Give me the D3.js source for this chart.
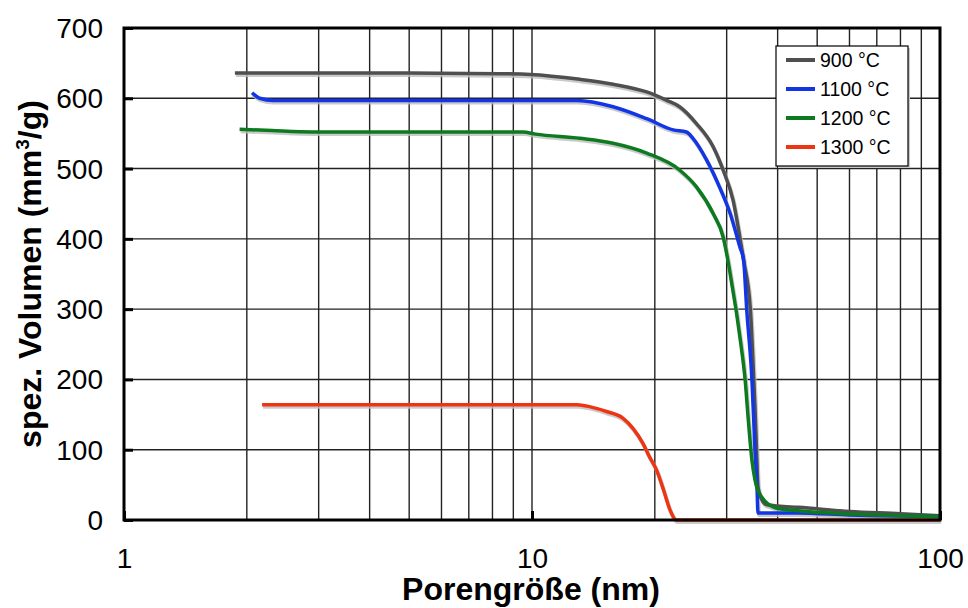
<!DOCTYPE html>
<html>
<head>
<meta charset="utf-8">
<script src="https://cdn.jsdelivr.net/npm/d3@7"></script>
<style>
  body { margin: 0; background: white; }
  text { font-family: "Liberation Sans", Arial, Helvetica, sans-serif; }
</style>
</head>
<body>
<div id="svgcontainer"></div>
<script>
// chart dimensions
const chartWidth = 968;
const chartHeight = 608;

// data: pore size (nm) and specific volume (mm3/g)
const series = ["900 °C", "1100 °C", "1200 °C", "1300 °C"];
const colors = ["#4f4f4f", "#1236e6", "#0e7a20", "#ee3512"];

const size900 = [1.87, 5, 8.35, 9.9, 13.1, 15.8, 19.1, 21.4, 23.0, 25.3, 27.8, 29.4, 31.1, 32.3, 33.0, 34.3, 34.7, 35.2, 35.5, 35.8, 36.5, 37.5, 40, 45, 60, 80, 100];
const vol900 = [636, 636, 635, 634, 627, 620, 609, 597, 588, 564, 531, 498, 455, 403, 370, 299, 242, 160, 100, 47, 30, 22, 20, 18, 12, 9, 6];

const size1100 = [2.06, 2.15, 2.32, 5, 10, 12.9, 15.8, 19.1, 22.2, 23.9, 24.8, 26.8, 28.8, 30.6, 32.3, 33.0, 33.6, 34.6, 35.2, 35.6, 35.8, 45, 60, 100];
const vol1100 = [608, 600, 597, 597, 597, 597, 588, 571, 555, 552, 543, 512, 474, 436, 389, 370, 299, 199, 100, 47, 10, 10, 7, 5];

const size1200 = [1.92, 2.3, 2.9, 5, 9.5, 10.2, 13.1, 15.8, 19.1, 23.0, 25.3, 27.8, 29.4, 30.2, 31.0, 31.8, 32.4, 33.3, 33.9, 34.6, 35.2, 36.5, 39.7, 45, 60, 100];
const vol1200 = [556, 554, 552, 552, 552, 549, 543, 536, 522, 498, 474, 436, 403, 370, 330, 290, 256, 199, 142, 85, 57, 33, 17, 13, 8.5, 5];

const size1300 = [2.18, 5, 10, 12.9, 13.9, 15.3, 16.7, 17.7, 18.7, 19.4, 20.2, 21.0, 21.8, 22.6, 40, 100];
const vol1300 = [164, 164, 164, 164, 161, 154, 145, 130, 109, 90, 71, 43, 14, 0, 0, 0];

const xTicks = [1, 10, 100];
const xGrid = [2, 3, 4, 5, 6, 7, 8, 9, 10, 20, 30, 40, 50, 60, 70, 80, 90];
const yTicks = [0, 100, 200, 300, 400, 500, 600, 700];

const sizes = [size900, size1100, size1200, size1300];
const vols = [vol900, vol1100, vol1200, vol1300];

const plotLeft = 124;
const plotRight = 940;
const plotTop = 28;
const plotBottom = 520;

const x = d3.scaleLog().domain([1, 100]).range([plotLeft, plotRight]);
const y = d3.scaleLinear().domain([0, 700]).range([plotBottom, plotTop]);

const svg = d3.select("#svgcontainer")
    .append("svg").attr("width", chartWidth).attr("height", chartHeight);

svg.append('rect')
    .attr('x', 0)
    .attr('y', 0)
    .attr('width', chartWidth)
    .attr('height', chartHeight)
    .attr('fill', 'white');

// grid lines
svg.selectAll(".vgrid")
    .data(xGrid)
    .enter().append("line")
    .attr("x1", d => x(d))
    .attr("x2", d => x(d))
    .attr("y1", plotTop)
    .attr("y2", plotBottom)
    .attr("stroke", "#222")
    .attr("stroke-width", 1.4);

svg.selectAll(".hgrid")
    .data(yTicks.slice(1, -1))
    .enter().append("line")
    .attr("x1", plotLeft)
    .attr("x2", plotRight)
    .attr("y1", d => y(d))
    .attr("y2", d => y(d))
    .attr("stroke", "#222")
    .attr("stroke-width", 1.4);

// curves, each with a soft grey shadow
const line = d3.line()
    .x(d => x(d[0]))
    .y(d => y(d[1]))
    .curve(d3.curveMonotoneX);

const drawOrder = [3, 0, 1, 2];
drawOrder.forEach(i => {
    const pts = sizes[i].map((s, j) => [s, vols[i][j]]);
    svg.append("path")
        .attr("d", line(pts))
        .attr("fill", "none")
        .attr("stroke", "#bdbdbd")
        .attr("stroke-width", 4)
        .attr("opacity", 0.8)
        .attr("transform", "translate(1,2)");
});
drawOrder.forEach(i => {
    const pts = sizes[i].map((s, j) => [s, vols[i][j]]);
    svg.append("path")
        .attr("d", line(pts))
        .attr("fill", "none")
        .attr("stroke", colors[i])
        .attr("stroke-width", 3.5);
});

// axes
const yAxis = svg.append("g")
    .attr("transform", `translate(${plotLeft},0)`)
    .call(d3.axisLeft(y).tickValues(yTicks).tickSize(-9).tickPadding(21));

const xAxis = svg.append("g")
    .attr("transform", `translate(0,${plotBottom})`)
    .call(d3.axisBottom(x).tickValues(xTicks).tickFormat(d3.format("d")).tickSize(-9).tickPadding(28));

[yAxis, xAxis].forEach(g => {
    g.select(".domain").remove();
    g.selectAll("line").attr("stroke", "black").attr("stroke-width", 3);
    g.selectAll("text")
        .attr("fill", "black")
        .style("font-size", "28px")
        .style("font-family", "'Liberation Sans', Arial, sans-serif");
});
yAxis.selectAll("text").attr("dy", "0.34em");

// plot frame
svg.append('rect')
    .attr('x', plotLeft)
    .attr('y', plotTop)
    .attr('width', plotRight - plotLeft)
    .attr('height', plotBottom - plotTop)
    .attr('fill', 'none')
    .attr('stroke', 'black')
    .attr('stroke-width', 3);

// axis titles
svg.append("text")
    .attr("x", 531)
    .attr("y", 600)
    .attr("text-anchor", "middle")
    .style("font-size", "32px")
    .style("font-weight", "bold")
    .text("Porengröße (nm)");

svg.append("text")
    .attr("transform", "translate(41,274) rotate(-90)")
    .attr("text-anchor", "middle")
    .style("font-size", "32px")
    .style("font-weight", "bold")
    .html("spez. Volumen (mm<tspan dy='-12' font-size='19px'>3</tspan><tspan dy='12'>/g)</tspan>");

// legend
const legend = svg.append("g");
legend.append('rect')
    .attr('x', 778)
    .attr('y', 48)
    .attr('width', 132)
    .attr('height', 120)
    .attr('fill', '#c8c8c8');
legend.append('rect')
    .attr('x', 776)
    .attr('y', 46)
    .attr('width', 132)
    .attr('height', 120)
    .attr('fill', 'white')
    .attr('stroke', 'black')
    .attr('stroke-width', 1.2);

series.forEach((name, i) => {
    const ly = 60 + i * 29;
    legend.append("line")
        .attr("x1", 786)
        .attr("x2", 815)
        .attr("y1", ly)
        .attr("y2", ly)
        .attr("stroke", colors[i])
        .attr("stroke-width", 4);
    legend.append("text")
        .attr("x", 820)
        .attr("y", ly + 7)
        .style("font-size", "19.5px")
        .text(name);
});
</script>
</body>
</html>
